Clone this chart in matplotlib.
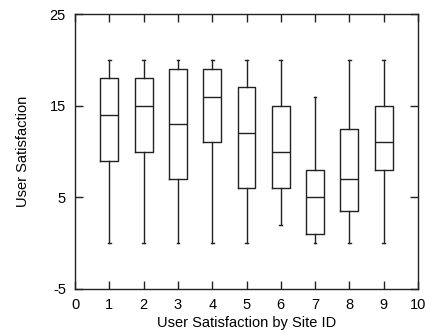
import matplotlib
matplotlib.use("Agg")
import matplotlib.pyplot as plt

plt.rcParams['font.family'] = ['Liberation Sans', 'DejaVu Sans']
plt.rcParams['axes.unicode_minus'] = False

sites = [1, 2, 3, 4, 5, 6, 7, 8, 9]
whislo = [0, 0, 0, 0, 0, 2, 0, 0, 0]
q1 = [9, 10, 7, 11, 6, 6, 1, 3.5, 8]
med = [14, 15, 13, 16, 12, 10, 5, 7, 11]
q3 = [18, 18, 19, 19, 17, 15, 8, 12.5, 15]
whishi = [20, 20, 20, 20, 20, 20, 16, 20, 20]

stats = [dict(whislo=a, q1=b, med=c, q3=d, whishi=e, fliers=[])
         for a, b, c, d, e in zip(whislo, q1, med, q3, whishi)]

fig = plt.figure(figsize=(4.25, 3.33), dpi=100)
ax = fig.add_axes([75 / 425, 1 - 289 / 333, (418 - 75) / 425, (289 - 14) / 333])

lc = '#222222'
ax.bxp(stats, positions=sites, widths=0.52, showfliers=False,
       boxprops=dict(color=lc, linewidth=1),
       medianprops=dict(color=lc, linewidth=1),
       whiskerprops=dict(color=lc, linewidth=1),
       capprops=dict(color=lc, linewidth=1),
       capwidths=0.08, manage_ticks=False)

ax.set_xlim(0, 10)
ax.set_ylim(-5, 25)
ax.set_xticks(range(0, 11))
ax.set_yticks([-5, 5, 15, 25])
ax.tick_params(direction='in', length=6, width=1, top=True, right=True,
               labelsize=10.5, color=lc, pad=6.5)
for s in ax.spines.values():
    s.set_color(lc)
    s.set_linewidth(1)

ax.set_xlabel('User Satisfaction by Site ID', fontsize=10.5, labelpad=3)
ax.set_ylabel('User Satisfaction', fontsize=10.5, labelpad=14)

fig.savefig('out.png', dpi=100)
